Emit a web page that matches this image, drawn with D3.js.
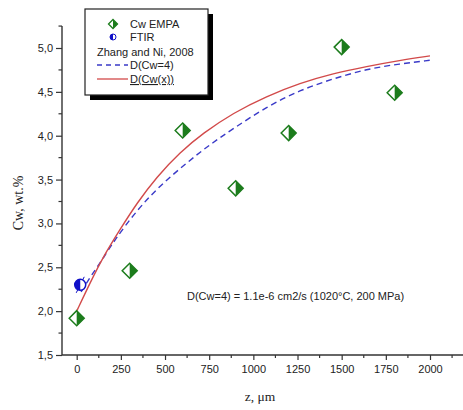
<!DOCTYPE html>
<html><head><meta charset="utf-8">
<script src="https://cdn.jsdelivr.net/npm/d3@7"></script>
<style>body{margin:0;background:#fff}svg{display:block}</style>
</head><body>
<svg id="c" width="463" height="410"></svg>
<script>
const empaZ = [0, 300, 600, 900, 1200, 1500, 1800];
const empaCw = [1.92, 2.46, 4.06, 3.40, 4.03, 5.01, 4.49];
const ftirZ = [20];
const ftirCw = [2.30];
const redZ = [0, 75, 150, 245, 340, 453, 584, 716, 886, 1075, 1264, 1452, 1641, 1830, 2000];
const redCw = [2.0, 2.32, 2.62, 2.93, 3.23, 3.53, 3.81, 4.03, 4.26, 4.45, 4.60, 4.71, 4.79, 4.86, 4.91];
const blueZ = [25, 80, 150, 207, 340, 471, 622, 754, 886, 1075, 1264, 1452, 1641, 1830, 2000];
const blueCw = [2.22, 2.40, 2.60, 2.79, 3.15, 3.43, 3.69, 3.90, 4.08, 4.33, 4.52, 4.65, 4.76, 4.82, 4.86];
const xTicks = [0, 250, 500, 750, 1000, 1250, 1500, 1750, 2000];
const yTicks = [1.5, 2.0, 2.5, 3.0, 3.5, 4.0, 4.5, 5.0];
const legendLabels = ["Cw EMPA", "FTIR", "Zhang and Ni, 2008", "D(Cw=4)", "D(Cw(x))"];
const annotation = "D(Cw=4) = 1.1e-6 cm2/s (1020°C, 200 MPa)";

const svg = d3.select("#c");
const x = d3.scaleLinear().domain([0, 2000]).range([76.7, 430]);
const y = d3.scaleLinear().domain([1.5, 5.0]).range([355, 48]);
const fmt = d => d.toFixed(1).replace(".", ",");
const axisCol = "#333";
const green = "#1c7c1c", blue = "#1010c8", red = "#d24a4a", dblue = "#3a3ac8";

const xMinor = d3.range(-125, 2200, 125).filter(v => v % 250 !== 0 && x(v) > 62 && x(v) < 463);
const yMinor = d3.range(1.75, 5.3, 0.5);

const gx = svg.append("g").attr("transform", "translate(0,355)");
gx.append("line").attr("x1", 62).attr("x2", 463).attr("y1", 0).attr("y2", 0).attr("stroke", axisCol).attr("stroke-width", 1.4);
gx.call(d3.axisBottom(x).tickValues(xTicks).tickSize(5).tickPadding(5).tickFormat(d3.format("d")));
gx.selectAll(".minor").data(xMinor).enter().append("line").attr("x1", d => x(d)).attr("x2", d => x(d)).attr("y1", 0).attr("y2", 3).attr("stroke", axisCol).attr("stroke-width", 1.2);

const gy = svg.append("g").attr("transform", "translate(62,0)");
gy.call(d3.axisLeft(y).tickValues(yTicks).tickSize(6).tickPadding(3).tickFormat(fmt));
gy.append("line").attr("x1", 0).attr("x2", 0).attr("y1", y(5.25)).attr("y2", 355).attr("stroke", axisCol).attr("stroke-width", 1.4);
gy.selectAll(".minor").data(yMinor).enter().append("line").attr("x1", -3.5).attr("x2", 0).attr("y1", d => y(d)).attr("y2", d => y(d)).attr("stroke", axisCol).attr("stroke-width", 1.2);

[gx, gy].forEach(g => {
  g.select(".domain").remove();
  g.selectAll(".tick line").attr("stroke", axisCol).attr("stroke-width", 1.2);
  g.selectAll(".tick text").attr("fill", "#222").style("font-family", "Liberation Sans, Arial, sans-serif").style("font-size", "11px");
});

svg.append("text").attr("x", 260).attr("y", 401).attr("text-anchor", "middle")
  .style("font-family", "Liberation Serif, Times New Roman, serif").style("font-size", "13.5px").attr("fill", "#222").text("z, μm");
svg.append("text").attr("transform", "translate(23,203) rotate(-90)").attr("text-anchor", "middle")
  .style("font-family", "Liberation Serif, Times New Roman, serif").style("font-size", "14px").attr("fill", "#222").text("Cw, wt.%");

const line = d3.line().x(d => x(d[0])).y(d => y(d[1])).curve(d3.curveBasis);
svg.append("path").datum(blueZ.map((z, i) => [z, blueCw[i]])).attr("d", line)
  .attr("fill", "none").attr("stroke", dblue).attr("stroke-width", 1.4).attr("stroke-dasharray", "6,4");
svg.append("path").datum(redZ.map((z, i) => [z, redCw[i]])).attr("d", line)
  .attr("fill", "none").attr("stroke", red).attr("stroke-width", 1.4);

function diamond(g, cx, cy, r, sw) {
  g.append("path").attr("d", `M${cx},${cy - r}L${cx + r},${cy}L${cx},${cy + r}Z`).attr("fill", green);
  g.append("path").attr("d", `M${cx},${cy - r}L${cx + r},${cy}L${cx},${cy + r}L${cx - r},${cy}Z`)
    .attr("fill", "none").attr("stroke", green).attr("stroke-width", sw);
}
function halfCircle(g, cx, cy, r, sw) {
  g.append("circle").attr("cx", cx).attr("cy", cy).attr("r", r).attr("fill", "#fff").attr("stroke", blue).attr("stroke-width", sw);
  g.append("path").attr("d", `M${cx},${cy - r}A${r},${r} 0 0 0 ${cx},${cy + r}Z`).attr("fill", blue);
}
const gm = svg.append("g");
empaZ.forEach((z, i) => diamond(gm, x(z), y(empaCw[i]), 7.5, 1.5));
ftirZ.forEach((z, i) => {
  const cx = x(z), cy = y(ftirCw[i]);
  gm.append("line").attr("x1", cx - 4).attr("y1", cy + 8).attr("x2", cx + 4).attr("y2", cy - 8).attr("stroke", blue).attr("stroke-width", 1);
  halfCircle(gm, cx, cy, 5.5, 1.5);
});

svg.append("text").attr("x", 187).attr("y", 300).style("font-family", "Liberation Sans, Arial, sans-serif")
  .style("font-size", "11px").attr("fill", "#222").text(annotation);

const lg = svg.append("g");
lg.append("rect").attr("x", 90).attr("y", 14).attr("width", 123).attr("height", 86).attr("fill", "#000");
lg.append("rect").attr("x", 85).attr("y", 9).attr("width", 123).attr("height", 86).attr("fill", "#fff").attr("stroke", "#222").attr("stroke-width", 1.2);
const ly = [24, 37, 52, 65, 79];
diamond(lg, 113, ly[0], 4.5, 1.3);
halfCircle(lg, 113, ly[1], 3, 1);
lg.append("line").attr("x1", 97).attr("x2", 128).attr("y1", ly[3]).attr("y2", ly[3]).attr("stroke", dblue).attr("stroke-width", 1.3).attr("stroke-dasharray", "5,4");
lg.append("line").attr("x1", 97).attr("x2", 128).attr("y1", ly[4]).attr("y2", ly[4]).attr("stroke", red).attr("stroke-width", 1.3);
legendLabels.forEach((t, i) => {
  lg.append("text").attr("x", i === 2 ? 97 : 130).attr("y", ly[i] + 4)
    .style("font-family", "Liberation Sans, Arial, sans-serif").style("font-size", "11px").attr("fill", "#222")
    .style("text-decoration", i === 4 ? "underline" : null).text(t);
});
</script>
</body></html>
